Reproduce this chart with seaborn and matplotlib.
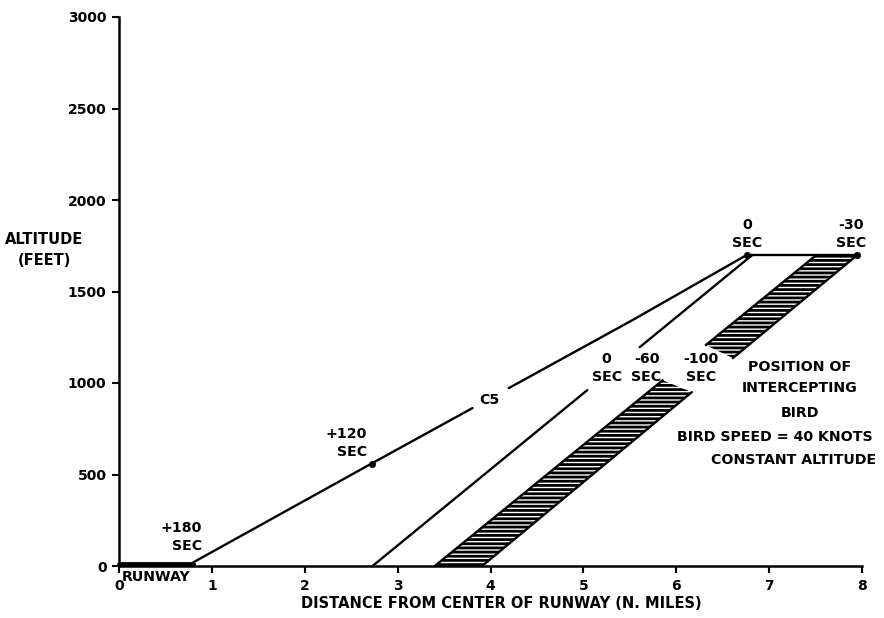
import numpy as np
import matplotlib
matplotlib.use("Agg")
import matplotlib.pyplot as plt
import seaborn as sns

# ---- chart data -------------------------------------------------------
x_ticks = [0, 1, 2, 3, 4, 5, 6, 7, 8]
y_ticks = [0, 500, 1000, 1500, 2000, 2500, 3000]

# C5 approach path (distance in n. miles, altitude in feet)
c5_dist = [0.80, 2.72, 5.53, 6.76]
c5_alt = [20, 560, 1344, 1700]
c5_gap = (863, 972)

# bird track reaching the aircraft at 0 sec
bird0_dist = [2.73, 6.82]
bird0_alt = [0, 1700]
bird0_gap = (961, 1196)

# band of intercepting bird positions (-60 .. -100 sec)
band_alt = [0, 1700]
band_left_dist = [3.40, 7.51]
band_right_dist = [3.91, 7.95]
band_left_gap = (1015, 1207)
band_right_gap = (950, 1136)

# level segment at 1700 ft between 0 and -30 sec
level_dist = [6.76, 7.95]
level_alt = [1700, 1700]

# runway
runway_dist = [0.0, 0.80]
runway_alt = [12, 12]

# timed points on the path
mark_dist = [2.72, 6.76, 7.95]
mark_alt = [560, 1700, 1700]

# ---- styling ----------------------------------------------------------
sns.set_style("ticks")
plt.rcParams["font.family"] = ["DejaVu Sans"]
plt.rcParams["font.weight"] = "bold"
plt.rcParams["text.color"] = "black"
plt.rcParams["axes.labelcolor"] = "black"
plt.rcParams["xtick.color"] = "black"
plt.rcParams["ytick.color"] = "black"
plt.rcParams["hatch.linewidth"] = 2.0

fig = plt.figure(figsize=(8.84, 6.18), dpi=100)
ax = fig.add_axes([119 / 884, 52 / 618, 743 / 884, 549 / 618])

LW = 1.7


def pieces(path_x, path_y, gap):
    """Split a path (monotonic in altitude) into two parts around a gap."""
    lo, hi = gap
    out = []
    for a, b in [(path_y[0], lo), (hi, path_y[-1])]:
        ys = [a] + [v for v in path_y if a < v < b] + [b]
        xs = np.interp(ys, path_y, path_x)
        out.append((xs, ys))
    return out


def draw_line(xs, ys, lw=LW):
    sns.lineplot(x=list(xs), y=list(ys), sort=False, estimator=None,
                 color="black", linewidth=lw, ax=ax, clip_on=False)


# hatched band
def bx(y, edge):
    return float(np.interp(y, band_alt, edge))


lower_y = [0, 0, band_right_gap[0], band_left_gap[0]]
lower_x = [bx(0, band_left_dist), bx(0, band_right_dist),
           bx(band_right_gap[0], band_right_dist), bx(band_left_gap[0], band_left_dist)]
upper_y = [band_left_gap[1], band_right_gap[1], band_alt[1], band_alt[1]]
upper_x = [bx(band_left_gap[1], band_left_dist), bx(band_right_gap[1], band_right_dist),
           bx(band_alt[1], band_right_dist), bx(band_alt[1], band_left_dist)]
for px, py in [(lower_x, lower_y), (upper_x, upper_y)]:
    ax.fill(px, py, facecolor="white", edgecolor="black", hatch="----", linewidth=0)

for edge, gap in [(band_left_dist, band_left_gap), (band_right_dist, band_right_gap)]:
    for xs, ys in pieces(edge, band_alt, gap):
        draw_line(xs, ys)

for xs, ys in pieces(c5_dist, c5_alt, c5_gap):
    draw_line(xs, ys)
for xs, ys in pieces(bird0_dist, bird0_alt, bird0_gap):
    draw_line(xs, ys)

draw_line(level_dist, level_alt)
draw_line(runway_dist, runway_alt, lw=3.5)

sns.scatterplot(x=mark_dist, y=mark_alt, color="black", s=22, ax=ax,
                edgecolor="black", zorder=5, clip_on=False)

# ---- labels -----------------------------------------------------------
FS = 10.2
ax.text(0.894, 158, "+180\nSEC", ha="right", va="center", fontsize=FS,
        multialignment="right", linespacing=1.4)
ax.text(2.67, 672, "+120\nSEC", ha="right", va="center", fontsize=FS,
        multialignment="right", linespacing=1.4)
ax.text(3.99, 905, "C5", ha="center", va="center", fontsize=FS)
ax.text(6.76, 1814, "0\nSEC", ha="center", va="center", fontsize=FS, linespacing=1.4)
ax.text(7.88, 1814, "-30\nSEC", ha="center", va="center", fontsize=FS, linespacing=1.4)
ax.text(5.25, 1082, "0\nSEC", ha="center", va="center", fontsize=FS, linespacing=1.4)
ax.text(5.68, 1082, "-60\nSEC", ha="center", va="center", fontsize=FS, linespacing=1.4)
ax.text(6.27, 1082, "-100\nSEC", ha="center", va="center", fontsize=FS, linespacing=1.4)

ax.text(7.33, 1087, "POSITION OF", ha="center", va="center", fontsize=FS)
ax.text(7.33, 973, "INTERCEPTING", ha="center", va="center", fontsize=FS)
ax.text(7.33, 836, "BIRD", ha="center", va="center", fontsize=FS)
ax.text(7.06, 705, "BIRD SPEED = 40 KNOTS", ha="center", va="center", fontsize=FS)
ax.text(7.26, 579, "CONSTANT ALTITUDE", ha="center", va="center", fontsize=FS)

ax.text(0.03, -62, "RUNWAY", ha="left", va="center", fontsize=FS, clip_on=False)

# ---- axes -------------------------------------------------------------
ax.set_xlim(0, 8)
ax.set_ylim(0, 3000)
ax.set_xticks(x_ticks)
ax.set_yticks(y_ticks)
ax.set_xticklabels([str(v) for v in x_ticks], fontweight="bold")
ax.set_yticklabels([str(v) for v in y_ticks], fontweight="bold")
ax.tick_params(direction="out", length=5, width=1.5, labelsize=10, pad=4, colors="black")
sns.despine(ax=ax)
for side in ("left", "bottom"):
    ax.spines[side].set_linewidth(1.8)
    ax.spines[side].set_color("black")
ax.set_xlabel("")
ax.set_ylabel("")

fig.text(501 / 884, 1 - 604 / 618, "DISTANCE FROM CENTER OF RUNWAY (N. MILES)",
         ha="center", va="center", fontsize=10.5)
fig.text(44 / 884, 1 - 250 / 618, "ALTITUDE\n(FEET)", ha="center", va="center",
         fontsize=10.5, linespacing=1.45)

fig.savefig("out.png", dpi=100, facecolor="white")
